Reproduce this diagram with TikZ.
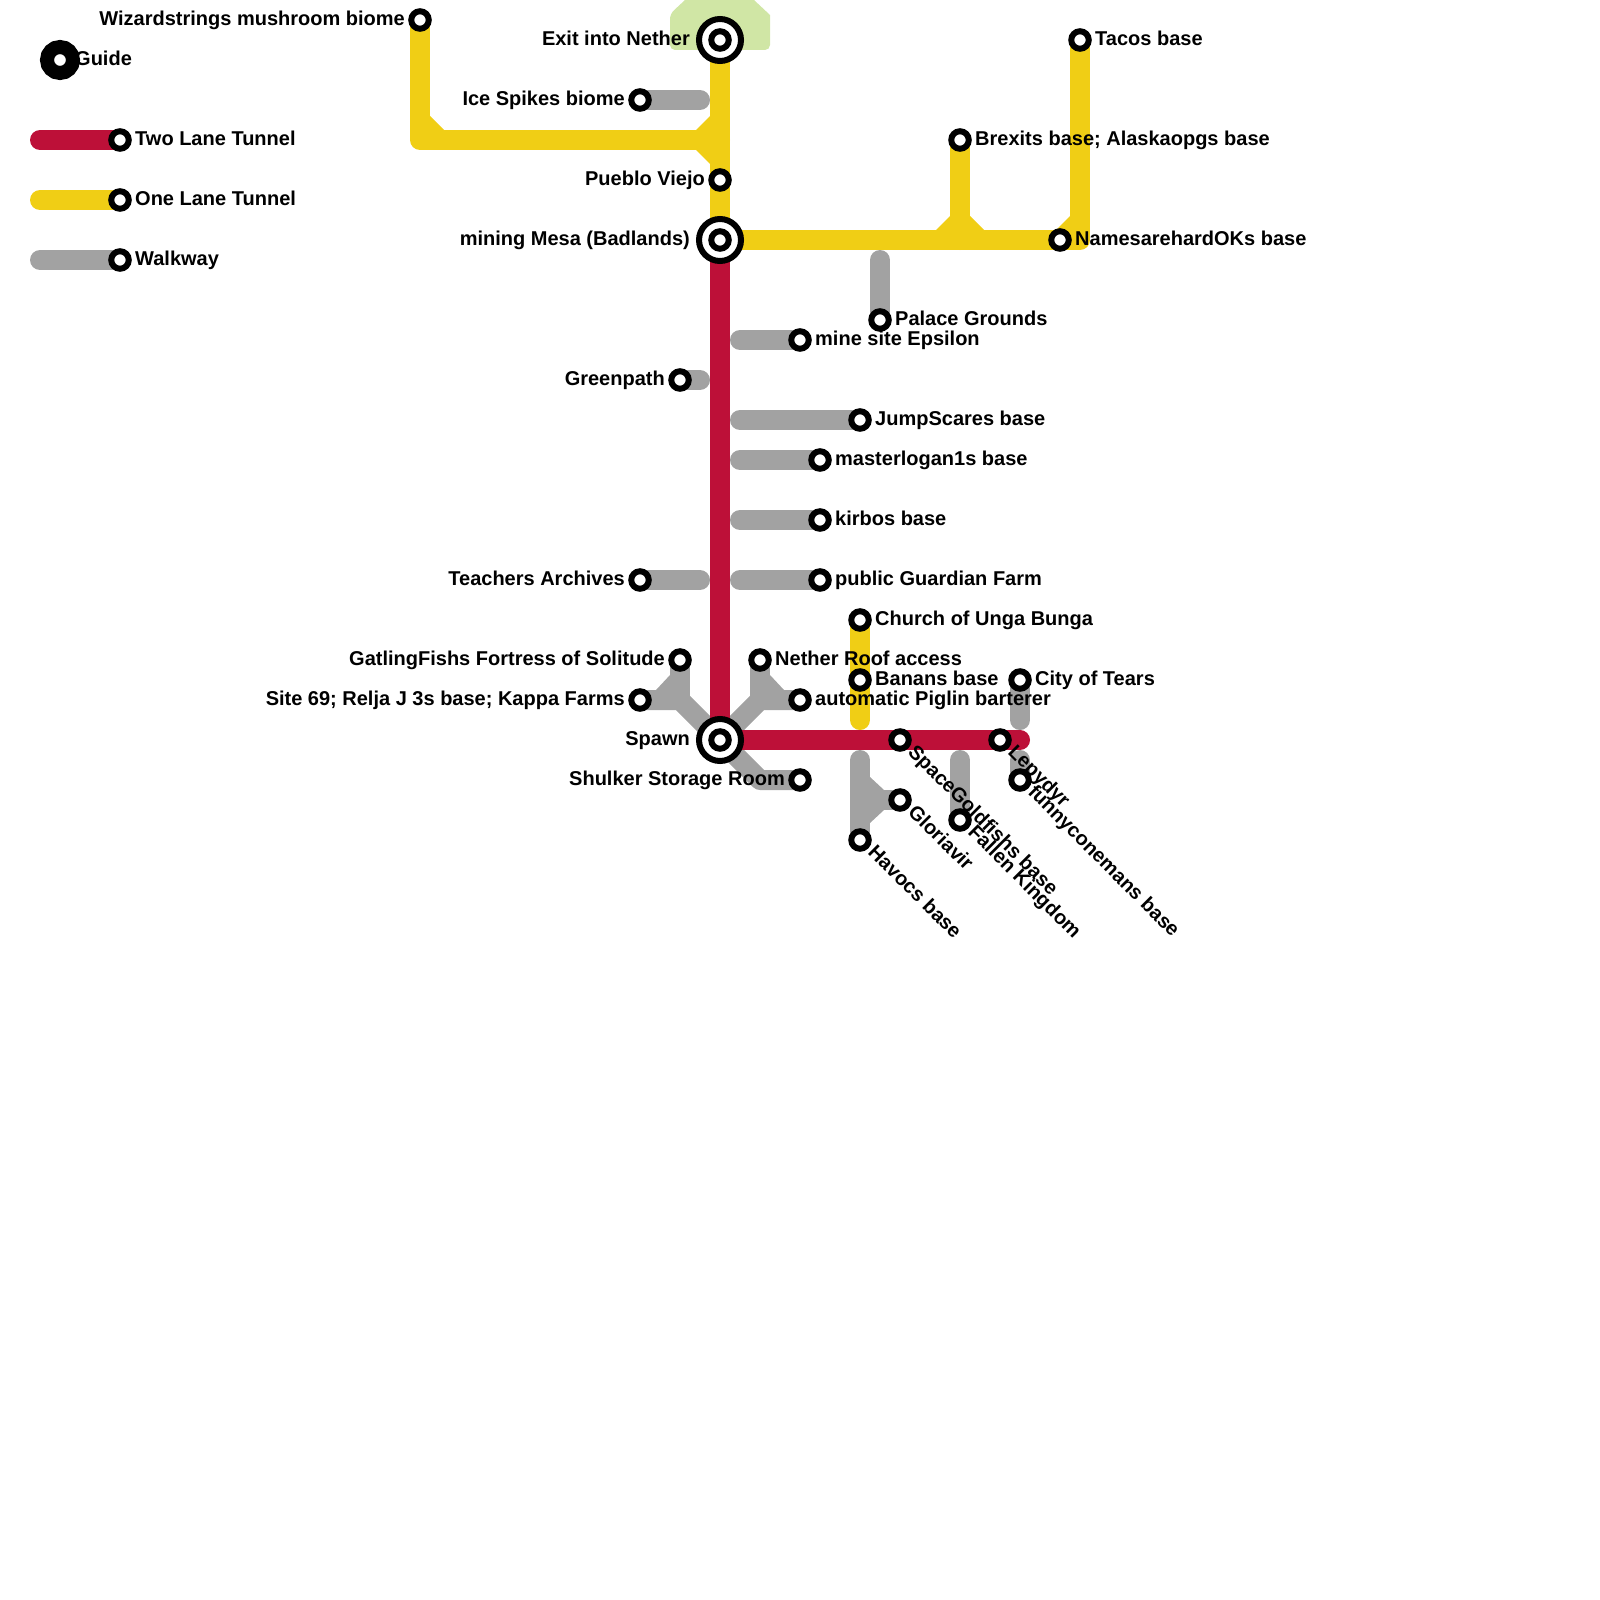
\documentclass[tikz,border=0pt]{standalone}
\usepackage{fontspec}
\setmainfont{Liberation Sans}
\usepackage{tikz}
\usetikzlibrary{backgrounds}

\definecolor{tunnelred}{HTML}{BD1038}
\definecolor{tunnelyellow}{HTML}{F0CE15}
\definecolor{walkgrey}{HTML}{A2A2A2}
\definecolor{netherzone}{HTML}{D0E6A5}

\tikzset{
  routeline/.style={line width=20pt, line cap=round, line join=round},
  stn/.style={circle, draw=black, fill=white, line width=6pt, minimum size=17.5pt, inner sep=0pt},
  bigstn/.style={circle, draw=black, fill=white, line width=6pt, minimum size=42pt, inner sep=0pt},
  guidestn/.style={circle, draw=black, fill=white, line width=14pt, minimum size=26pt, inner sep=0pt},
  stnlabel/.style={inner sep=0pt, font=\fontsize{20}{20}\selectfont\bfseries},
  eastlabel/.style={stnlabel, anchor=base west, xshift=15pt, yshift=-5.5pt},
  westlabel/.style={stnlabel, anchor=base east, xshift=-15pt, yshift=-5.5pt},
  bigwestlabel/.style={stnlabel, anchor=base east, xshift=-30pt, yshift=-5.5pt},
  turnlabel/.style={stnlabel, anchor=base west, xshift=7pt, yshift=-13pt, rotate=-45}
}

\begin{document}
\begin{tikzpicture}[x=1pt, y=-1pt]
\useasboundingbox (0,0) rectangle (1600,1600);

% Legend
\node[guidestn] (guide) at (60,60) {};
\node[stn] (legendred) at (120,140) {};
\node[stn] (legendyellow) at (120,200) {};
\node[stn] (legendgrey) at (120,260) {};
\coordinate (legendredend) at (40,140);
\coordinate (legendyellowend) at (40,200);
\coordinate (legendgreyend) at (40,260);

% Big stations
\node[bigstn] (exit) at (720,40) {};
\node[stn] (exitcore) at (exit) {};
\node[bigstn] (mesa) at (720,240) {};
\node[stn] (mesacore) at (mesa) {};
\node[bigstn] (spawn) at (720,740) {};
\node[stn] (spawncore) at (spawn) {};

% Stations
\node[stn] (wizard) at (420,20) {};
\node[stn] (ice) at (640,100) {};
\node[stn] (pueblo) at (720,180) {};
\node[stn] (tacos) at (1080,40) {};
\node[stn] (brexit) at (960,140) {};
\node[stn] (names) at (1060,240) {};
\node[stn] (palace) at (880,320) {};
\node[stn] (mine) at (800,340) {};
\node[stn] (greenpath) at (680,380) {};
\node[stn] (jump) at (860,420) {};
\node[stn] (logan) at (820,460) {};
\node[stn] (kirbos) at (820,520) {};
\node[stn] (teachers) at (640,580) {};
\node[stn] (guardian) at (820,580) {};
\node[stn] (church) at (860,620) {};
\node[stn] (gatling) at (680,660) {};
\node[stn] (roof) at (760,660) {};
\node[stn] (banans) at (860,680) {};
\node[stn] (tears) at (1020,680) {};
\node[stn] (kappa) at (640,700) {};
\node[stn] (piglin) at (800,700) {};
\node[stn] (space) at (900,740) {};
\node[stn] (lepydyr) at (1000,740) {};
\node[stn] (shulker) at (800,780) {};
\node[stn] (funny) at (1020,780) {};
\node[stn] (gloriavir) at (900,800) {};
\node[stn] (fallen) at (960,820) {};
\node[stn] (havocs) at (860,840) {};

% Bends and free line ends
\coordinate (wizardbend) at (420,140);
\coordinate (northjoin) at (720,140);
\coordinate (brexitjoin) at (960,240);
\coordinate (tacosbend) at (1080,240);
\coordinate (churchend) at (860,720);
\coordinate (redend) at (1020,740);
\coordinate (iceend) at (700,100);
\coordinate (palaceend) at (880,260);
\coordinate (mineend) at (740,340);
\coordinate (greenend) at (700,380);
\coordinate (jumpend) at (740,420);
\coordinate (loganend) at (740,460);
\coordinate (kirbosend) at (740,520);
\coordinate (teachersend) at (700,580);
\coordinate (guardianend) at (740,580);
\coordinate (gatlingjoin) at (680,700);
\coordinate (roofjoin) at (760,700);
\coordinate (shulkerbend) at (760,780);
\coordinate (havocsend) at (860,760);
\coordinate (gloriajoin) at (860,800);
\coordinate (fallenend) at (960,760);
\coordinate (tearsend) at (1020,720);
\coordinate (funnyend) at (1020,760);

\begin{scope}[on background layer]
% Nether zone
\fill[netherzone, rounded corners=5pt] (670,50) -- (670,14) [sharp corners] -- (685,0) -- (754,0) -- (770,15) [rounded corners=5pt] -- (770,50) -- cycle;

% Walkways
\begin{scope}[routeline, draw=walkgrey]
\draw (legendgreyend) -- (legendgrey.center);
\draw (ice.center) -- (iceend);
\draw (palace.center) -- (palaceend);
\draw (mineend) -- (mine.center);
\draw (greenpath.center) -- (greenend);
\draw (jumpend) -- (jump.center);
\draw (loganend) -- (logan.center);
\draw (kirbosend) -- (kirbos.center);
\draw (teachers.center) -- (teachersend);
\draw (guardianend) -- (guardian.center);
\draw (spawn.center) -- (gatlingjoin) -- (kappa.center);
\draw (gatlingjoin) -- (gatling.center);
\draw (spawn.center) -- (roofjoin) -- (piglin.center);
\draw (roofjoin) -- (roof.center);
\draw (spawn.center) -- (shulkerbend) -- (shulker.center);
\draw (havocsend) -- (havocs.center);
\draw (gloriajoin) -- (gloriavir.center);
\draw (fallenend) -- (fallen.center);
\draw (tears.center) -- (tearsend);
\draw (funnyend) -- (funny.center);
\end{scope}
\fill[walkgrey] (gatlingjoin) -- (670,675) -- (656,690) -- cycle;
\fill[walkgrey] (roofjoin) -- (770,675) -- (784,690) -- cycle;
\fill[walkgrey] (gloriajoin) -- (870,777) -- (884,790) -- cycle;
\fill[walkgrey] (gloriajoin) -- (870,823) -- (884,810) -- cycle;

% One lane tunnels
\begin{scope}[routeline, draw=tunnelyellow]
\draw (legendyellowend) -- (legendyellow.center);
\draw (exit.center) -- (mesa.center);
\draw (northjoin) -- (wizardbend) -- (wizard.center);
\draw (mesa.center) -- (tacosbend) -- (tacos.center);
\draw (brexitjoin) -- (brexit.center);
\draw (church.center) -- (churchend);
\end{scope}
\fill[tunnelyellow] (wizardbend) -- (430,116) -- (444,130) -- cycle;
\fill[tunnelyellow] (northjoin) -- (710,116) -- (696,130) -- cycle;
\fill[tunnelyellow] (northjoin) -- (710,164) -- (696,150) -- cycle;
\fill[tunnelyellow] (brexitjoin) -- (950,216) -- (936,230) -- cycle;
\fill[tunnelyellow] (brexitjoin) -- (970,216) -- (984,230) -- cycle;
\fill[tunnelyellow] (tacosbend) -- (1070,216) -- (1056,230) -- cycle;

% Two lane tunnels
\begin{scope}[routeline, draw=tunnelred]
\draw (legendredend) -- (legendred.center);
\draw (mesa.center) -- (spawn.center) -- (redend);
\end{scope}
\end{scope}

% Legend labels
\node[eastlabel] (guidelabel) at (guide) {Guide};
\node[eastlabel] (legendredlabel) at (legendred) {Two Lane Tunnel};
\node[eastlabel] (legendyellowlabel) at (legendyellow) {One Lane Tunnel};
\node[eastlabel] (legendgreylabel) at (legendgrey) {Walkway};

% Labels to the left
\node[westlabel] (wizardlabel) at (wizard) {Wizardstrings mushroom biome};
\node[bigwestlabel] (exitlabel) at (exit) {Exit into Nether};
\node[westlabel] (icelabel) at (ice) {Ice Spikes biome};
\node[westlabel] (pueblolabel) at (pueblo) {Pueblo Viejo};
\node[bigwestlabel] (mesalabel) at (mesa) {mining Mesa (Badlands)};
\node[westlabel] (greenpathlabel) at (greenpath) {Greenpath};
\node[westlabel] (teacherslabel) at (teachers) {Teachers Archives};
\node[westlabel] (gatlinglabel) at (gatling) {GatlingFishs Fortress of Solitude};
\node[westlabel] (kappalabel) at (kappa) {Site 69; Relja J 3s base; Kappa Farms};
\node[bigwestlabel] (spawnlabel) at (spawn) {Spawn};
\node[westlabel] (shulkerlabel) at (shulker) {Shulker Storage Room};

% Labels to the right
\node[eastlabel] (tacoslabel) at (tacos) {Tacos base};
\node[eastlabel] (brexitlabel) at (brexit) {Brexits base; Alaskaopgs base};
\node[eastlabel] (nameslabel) at (names) {NamesarehardOKs base};
\node[eastlabel] (palacelabel) at (palace) {Palace Grounds};
\node[eastlabel] (minelabel) at (mine) {mine site Epsilon};
\node[eastlabel] (jumplabel) at (jump) {JumpScares base};
\node[eastlabel] (loganlabel) at (logan) {masterlogan1s base};
\node[eastlabel] (kirboslabel) at (kirbos) {kirbos base};
\node[eastlabel] (guardianlabel) at (guardian) {public Guardian Farm};
\node[eastlabel] (churchlabel) at (church) {Church of Unga Bunga};
\node[eastlabel] (rooflabel) at (roof) {Nether Roof access};
\node[eastlabel] (bananslabel) at (banans) {Banans base};
\node[eastlabel] (tearslabel) at (tears) {City of Tears};
\node[eastlabel] (piglinlabel) at (piglin) {automatic Piglin barterer};

% Turned labels
\node[turnlabel] (spacelabel) at (space) {SpaceGoldfishs base};
\node[turnlabel] (lepydyrlabel) at (lepydyr) {Lepydyr};
\node[turnlabel] (funnylabel) at (funny) {funnyconemans base};
\node[turnlabel] (gloriavirlabel) at (gloriavir) {Gloriavir};
\node[turnlabel] (fallenlabel) at (fallen) {Fallen Kingdom};
\node[turnlabel] (havocslabel) at (havocs) {Havocs base};

\end{tikzpicture}
\end{document}
